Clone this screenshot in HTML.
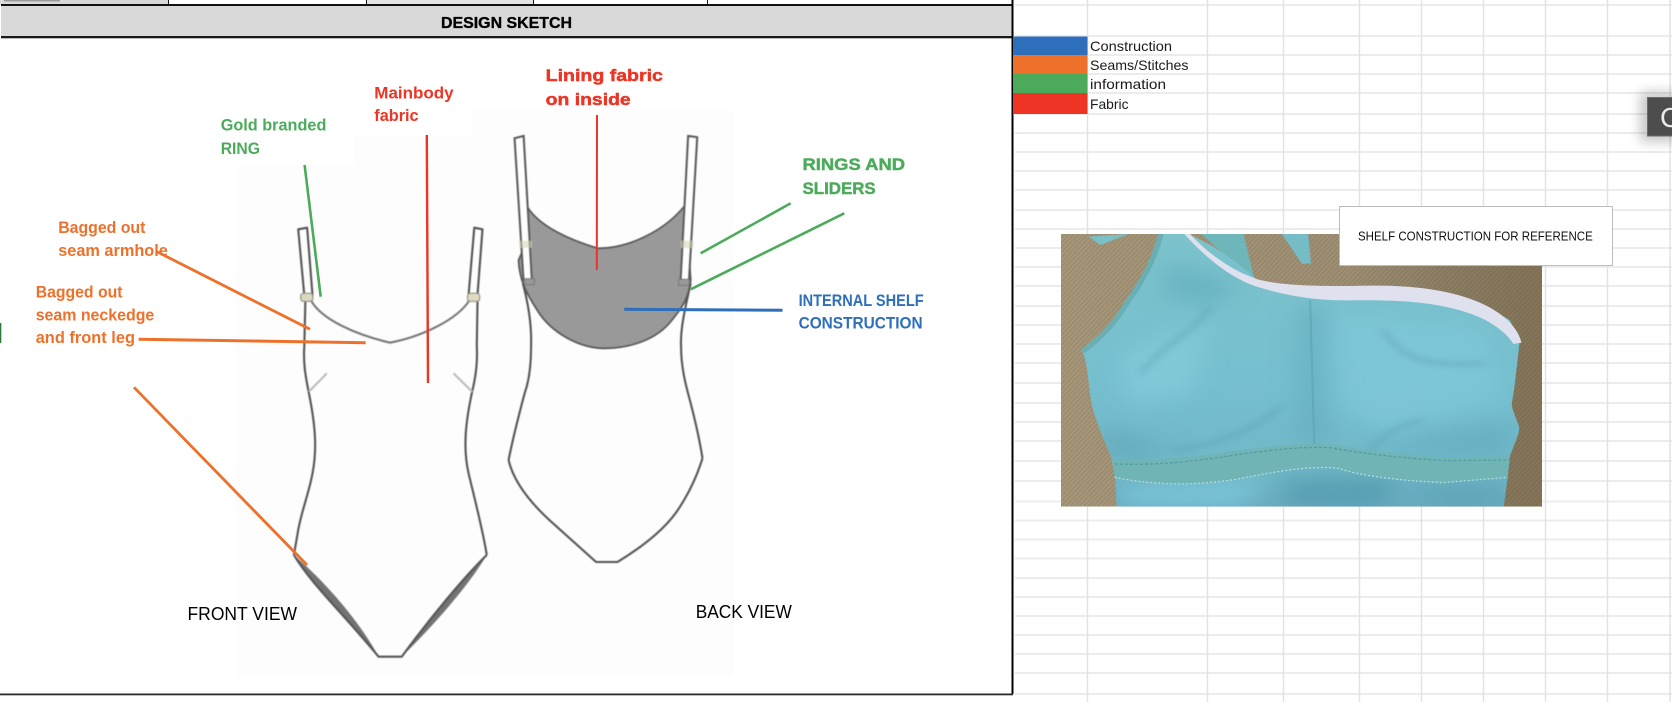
<!DOCTYPE html>
<html><head><meta charset="utf-8"><style>
html,body{margin:0;padding:0;background:#fff;width:1672px;height:702px;overflow:hidden}
svg{display:block;position:absolute;left:0;top:0}
text{font-family:"Liberation Sans",sans-serif}
.b{font-weight:bold;font-size:16.5px}
.h{stroke-width:.45px;font-size:17px}
.o{fill:#ee712b}.r{fill:#ee3424;stroke:#ee3424}.g{fill:#4cab5b;stroke:#4cab5b}.bl{fill:#2e6fbb}
.m{stroke:none}
.s{fill:none;stroke:#555;stroke-width:2.100;vector-effect:non-scaling-stroke;stroke-linejoin:round}
.c{fill:none;vector-effect:non-scaling-stroke}
.hl{stroke:#ececec;stroke-width:2}.vl{stroke:#e2e2e2;stroke-width:1.400}
</style></head><body>
<svg width="1672" height="702" viewBox="0 0 1672 702" xmlns="http://www.w3.org/2000/svg">
<defs>
<filter id="bl1" x="-5%" y="-5%" width="110%" height="110%"><feGaussianBlur stdDeviation="1.800"/></filter>
<filter id="bl4" x="-30%" y="-30%" width="160%" height="160%"><feGaussianBlur stdDeviation="9"/></filter>
<filter id="bl8" x="-50%" y="-50%" width="200%" height="200%"><feGaussianBlur stdDeviation="32"/></filter>
<filter id="shd" x="-40%" y="-40%" width="180%" height="180%"><feGaussianBlur stdDeviation="6"/></filter>
<clipPath id="ph"><rect x="52" y="42" width="1193" height="818"/></clipPath>
<clipPath id="gm"><path d="M300 42C285 110 262 170 215 250C190 300 165 340 105 395C118 430 118 470 125 530C130 570 140 610 175 705L186 770L190 860L1150 860L1160 770L1165 710C1180 660 1190 640 1188 620C1180 590 1170 570 1170 550C1178 500 1182 440 1190 360L1165 300L1100 255L1000 215L900 200L700 205L600 195L540 180L490 130L430 80L370 42Z"/></clipPath>
<pattern id="wood" width="9" height="9" patternUnits="userSpaceOnUse" patternTransform="rotate(-52)">
<rect width="9" height="9" fill="#a39376"/><rect y="2" width="9" height="2" fill="#96866a"/><rect y="6" width="9" height="1.500" fill="#ad9e82"/>
</pattern>
<linearGradient id="wshade" x1="0" y1="0" x2="1" y2="0"><stop offset="0" stop-color="#000" stop-opacity="0"/><stop offset=".6" stop-color="#000" stop-opacity=".05"/><stop offset="1" stop-color="#3a2c10" stop-opacity=".32"/></linearGradient>
<linearGradient id="teal" x1="0" y1="0" x2="0" y2="1"><stop offset="0" stop-color="#7cc3cc"/><stop offset=".55" stop-color="#76bfcf"/><stop offset=".85" stop-color="#70b8c8"/><stop offset="1" stop-color="#68acbe"/></linearGradient>
</defs>

<!-- spreadsheet grid -->
<g class="c">
<path class="hl" d="M1015 5H1672M1015 36H1672M1015 55H1672M1015 74H1672M1015 93H1672M1015 114H1672M1015 133H1672M1015 152H1672M1015 171H1672M1015 190H1672M1015 210H1672M1015 229H1672M1015 248H1672M1015 267H1672M1015 286H1672M1015 306H1672M1015 325H1672M1015 344H1672M1015 363H1672M1015 383H1672M1015 403H1672M1015 422H1672M1015 441H1672M1015 461H1672M1015 481H1672M1015 501.500H1672M1015 520.500H1672M1015 539.500H1672M1015 558.500H1672M1015 578H1672M1015 597H1672M1015 616H1672M1015 635H1672M1015 654H1672M1015 673H1672M1015 694H1672"/>
<path class="vl" d="M1087.500 0V702M1207.500 0V702M1283.500 0V702M1359.500 0V702M1421.500 0V702M1483.500 0V702M1545.500 0V702M1607.500 0V702M1670 0V702"/>
</g>

<!-- sheet frame -->
<rect x="1" y="39" width="1011" height="655" fill="#fff"/>
<rect x="236" y="110" width="497" height="566" fill="#fdfdfd"/>
<rect x="236" y="110" width="118" height="56" fill="#fff"/>
<rect x="354" y="110" width="118" height="26" fill="#fff"/>
<rect x="0" y="0" width="168" height="5" fill="#d9d9d9"/>
<rect x="366" y="0" width="167" height="5" fill="#e4e4e4"/>
<rect x="4" y="0" width="56" height="1.500" fill="#9a9a9a"/>
<rect x="1" y="5" width="1011" height="31" fill="#d9d9d9"/>
<rect x="1" y="4" width="1012" height="2" fill="#111"/>
<rect x="1" y="36" width="1011" height="2" fill="#1a1a1a"/>
<rect x="1" y="38" width="1011" height="1" fill="#b8b8b8"/>
<rect x="168" y="0" width="1" height="5" fill="#111"/><rect x="366" y="0" width="1" height="5" fill="#111"/><rect x="533" y="0" width="1" height="5" fill="#111"/><rect x="707" y="0" width="1" height="5" fill="#111"/>
<rect x="1011.500" y="0" width="2" height="694" fill="#000"/>
<rect x="0" y="693.500" width="1013" height="1.800" fill="#2a2a2a"/>
<rect x="0" y="323" width="1.300" height="20" fill="#2a7a3a"/>
<text x="441" y="28" font-weight="bold" font-size="16" stroke="#000" stroke-width=".35" textLength="131" lengthAdjust="spacingAndGlyphs" fill="#000">DESIGN SKETCH</text>

<!-- garments: zoom coordinates X=x*2.8, Y=y*3 -->
<g transform="scale(0.35714,0.33333)" filter="url(#bl1)">
<!-- front -->
<path d="M823 1665C870 1745 960 1845 1060 1970C1015 1880 930 1765 823 1665Z" fill="#737373"/>
<path d="M1363 1665C1300 1735 1200 1860 1125 1970C1215 1875 1310 1760 1363 1665Z" fill="#737373"/>
<path class="s" d="M835 688L860 683L875 885L852 885Z"/>
<path class="s" d="M1328 683L1351 688L1337 885L1312 885Z"/>
<path class="s" d="M870 900C900 960 1000 1005 1092 1028C1180 1010 1280 960 1315 900" style="stroke:#777"/>
<path class="s" d="M855 905L852 1040C848 1100 860 1150 865 1180C880 1260 890 1340 875 1420C865 1480 845 1530 835 1590L823 1665"/>
<path class="s" d="M1337 905L1335 1040C1338 1090 1330 1140 1322 1175C1305 1260 1295 1340 1312 1420C1325 1480 1350 1580 1363 1665"/>
<path class="s" d="M823 1665C870 1750 960 1840 1060 1970L1125 1970C1200 1860 1300 1730 1363 1665"/>
<path class="s" d="M865 1175L915 1120" style="stroke:#bbb"/>
<path class="s" d="M1322 1175L1270 1120" style="stroke:#bbb"/>
<rect x="842" y="880" width="34" height="24" rx="8" fill="#dcd8c0" stroke="#8f8f80" stroke-width="1.200" vector-effect="non-scaling-stroke"/>
<rect x="1309" y="880" width="34" height="24" rx="8" fill="#e0dcc4" stroke="#8f8f80" stroke-width="1.200" vector-effect="non-scaling-stroke"/>

<!-- back -->
<path d="M1479 625C1514 680 1594 720 1674 745C1764 745 1864 690 1919 615L1934 840C1929 900 1904 930 1874 970C1824 1030 1744 1045 1694 1045C1624 1045 1544 1000 1504 930C1474 880 1454 840 1452 780L1469 740Z" fill="#999" stroke="#585858" stroke-width="1.800" vector-effect="non-scaling-stroke"/>
<path d="M1441 415L1466 408L1489 840L1466 840Z" fill="#fff" stroke="#5c5c5c" stroke-width="2.200" vector-effect="non-scaling-stroke"/>
<path d="M1927 408L1952 412L1929 840L1906 840Z" fill="#fff" stroke="#5c5c5c" stroke-width="2.200" vector-effect="non-scaling-stroke"/>
<rect x="1454" y="722" width="36" height="22" fill="#d6d2b0" opacity=".55"/>
<rect x="1906" y="722" width="36" height="22" fill="#d6d2b0" opacity=".55"/>
<rect x="1468" y="836" width="28" height="18" fill="#999" stroke="#777" vector-effect="non-scaling-stroke"/>
<rect x="1900" y="838" width="30" height="18" fill="#999" stroke="#777" vector-effect="non-scaling-stroke"/>
<path class="s" d="M1464 850C1479 910 1489 980 1487 1040C1487 1100 1479 1150 1469 1180C1454 1240 1439 1300 1424 1380"/>
<path class="s" d="M1934 850C1919 920 1904 990 1907 1040C1907 1100 1919 1150 1929 1190C1944 1250 1959 1320 1967 1375"/>
<path class="s" d="M1424 1380C1439 1450 1494 1520 1559 1580L1669 1686L1729 1686C1784 1650 1864 1590 1904 1520C1934 1470 1954 1420 1967 1375"/>
</g>

<!-- connectors -->
<g class="c" stroke-linecap="butt">
<path d="M304.600 165L320.700 296.700" stroke="#4cab5b" stroke-width="2.600"/>
<path d="M157 251.700L310 329.300" stroke="#ee712b" stroke-width="2.800"/>
<path d="M138.600 339.300L365.700 342.700" stroke="#ee712b" stroke-width="3"/>
<path d="M134 387.300L307 565" stroke="#ee712b" stroke-width="2.800"/>
<path d="M426.800 135L428 383" stroke="#ee3424" stroke-width="2.400"/>
<path d="M597 115L596.800 270" stroke="#ee3424" stroke-width="2"/>
<path d="M700.700 253.300L790.700 203.300" stroke="#4cab5b" stroke-width="2.600"/>
<path d="M690.700 289.300L844.300 213.300" stroke="#4cab5b" stroke-width="2.600"/>
<path d="M624.300 309.300L782.500 310.300" stroke="#2e6fbb" stroke-width="3"/>
</g>

<!-- labels -->
<g class="b">
<text class="g m" x="220.700" y="130.700" textLength="105.700" lengthAdjust="spacingAndGlyphs">Gold branded</text>
<text class="g m" x="220.700" y="154" textLength="39.300" lengthAdjust="spacingAndGlyphs">RING</text>
<text class="r m" x="374.300" y="98.300" textLength="79.300" lengthAdjust="spacingAndGlyphs">Mainbody</text>
<text class="r m" x="374.300" y="121" textLength="44.300" lengthAdjust="spacingAndGlyphs">fabric</text>
<text class="o" x="58.200" y="233" textLength="87.200" lengthAdjust="spacingAndGlyphs">Bagged out</text>
<text class="o" x="58.200" y="256" textLength="109.700" lengthAdjust="spacingAndGlyphs">seam armhole</text>
<text class="o" x="35.700" y="297.700" textLength="86.800" lengthAdjust="spacingAndGlyphs">Bagged out</text>
<text class="o" x="35.700" y="320.700" textLength="118.600" lengthAdjust="spacingAndGlyphs">seam neckedge</text>
<text class="o" x="35.700" y="343" textLength="99.300" lengthAdjust="spacingAndGlyphs">and front leg</text>
<text class="r h" x="545.700" y="81" textLength="117.200" lengthAdjust="spacingAndGlyphs">Lining fabric</text>
<text class="r h" x="545.700" y="105" textLength="85" lengthAdjust="spacingAndGlyphs">on inside</text>
<text class="g h" x="802.500" y="170" textLength="102.500" lengthAdjust="spacingAndGlyphs">RINGS AND</text>
<text class="g h" x="802.500" y="194" textLength="73.200" lengthAdjust="spacingAndGlyphs">SLIDERS</text>
<text class="bl" x="798.600" y="306" textLength="125" lengthAdjust="spacingAndGlyphs">INTERNAL SHELF</text>
<text class="bl" x="798.600" y="328.700" textLength="124" lengthAdjust="spacingAndGlyphs">CONSTRUCTION</text>
</g>
<text x="187.500" y="620" font-size="18" textLength="109.500" lengthAdjust="spacingAndGlyphs" fill="#000">FRONT VIEW</text>
<text x="695.700" y="618" font-size="18" textLength="96.100" lengthAdjust="spacingAndGlyphs" fill="#000">BACK VIEW</text>

<!-- legend -->
<rect x="1013" y="36.500" width="74.500" height="18.500" fill="#2e6fbb"/>
<rect x="1013" y="55" width="74.500" height="19" fill="#ee712b"/>
<rect x="1013" y="74" width="74.500" height="19" fill="#4cab5b"/>
<rect x="1013" y="93" width="74.500" height="21" fill="#ee3424"/>
<g font-size="14" fill="#1a1a1a">
<text x="1090" y="51" textLength="82" lengthAdjust="spacingAndGlyphs">Construction</text>
<text x="1090" y="70" textLength="98.500" lengthAdjust="spacingAndGlyphs">Seams/Stitches</text>
<text x="1090" y="89" textLength="76" lengthAdjust="spacingAndGlyphs">information</text>
<text x="1090" y="109" textLength="38.500" lengthAdjust="spacingAndGlyphs">Fabric</text>
</g>

<!-- dark button -->
<rect x="1640" y="92" width="40" height="50" fill="#000" opacity=".22" filter="url(#shd)"/>
<rect x="1647.500" y="97.500" width="30" height="38.500" fill="#4d4d4d" stroke="#6c6c6c" stroke-width="1"/>
<text x="1660" y="127" font-size="28" fill="#ececec">C</text>

<!-- photo: zoom coordinates -->
<g transform="translate(1040,220) scale(0.40323,0.33333)" clip-path="url(#ph)">
<rect x="52" y="42" width="1193" height="818" fill="url(#wood)"/>
<rect x="52" y="42" width="1193" height="818" fill="url(#wshade)"/>
<path d="M120 50L220 42L150 75Z" fill="#79c0c8"/>
<path d="M600 42L665 42L672 130L650 132Z" fill="#75bcc6"/>
<path d="M400 42L505 42L530 170L490 140Z" fill="#6fb6ba"/>
<path d="M300 42C285 110 262 170 215 250C190 300 165 340 105 395C118 430 118 470 125 530C130 570 140 610 175 705L186 770L190 860L1150 860L1160 770L1165 710C1180 660 1190 640 1188 620C1180 590 1170 570 1170 550C1178 500 1182 440 1190 360L1165 300L1100 255L1000 215L900 200L700 205L600 195L540 180L490 130L430 80L370 42Z" fill="url(#teal)"/>
<path d="M300 42C285 110 262 170 215 250C190 300 165 340 105 395" fill="none" stroke="#69afb3" stroke-width="14"/>
<g clip-path="url(#gm)"><g filter="url(#bl8)">
<path d="M320 130L500 190L420 260L300 220Z" fill="#5aa6b8" opacity=".5"/>
<path d="M200 400L420 300L380 520L220 560Z" fill="#88d0dd" opacity=".55"/>
<path d="M720 280L1100 330L1140 540L860 640L740 560Z" fill="#80c9da" opacity=".65"/>
<path d="M640 260L710 260L710 670L640 670Z" fill="#5ea8ba" opacity=".55"/>
<path d="M140 620L340 690L180 720Z" fill="#559cae" opacity=".5"/>
<path d="M200 800L560 780L500 860L200 860Z" fill="#7fcbe0" opacity=".8"/>
<path d="M600 780L880 770L860 860L620 860Z" fill="#4f97ad" opacity=".7"/>
<path d="M900 790L1150 790L1150 860L980 860Z" fill="#5aa1b3" opacity=".65"/>
<path d="M820 690L1160 700L1175 610L1000 640Z" fill="#5ea6b8" opacity=".5"/>
</g>
<g filter="url(#bl4)" fill="none" stroke="#5ba0b2" stroke-width="10" opacity=".6">
<path d="M330 690C420 680 520 640 600 560"/><path d="M820 690C860 640 880 620 950 600"/><path d="M420 260C400 320 300 380 250 460"/><path d="M850 330C900 420 960 440 1100 430"/>
</g></g>
<path d="M670 240L680 672" stroke="#5aa2b0" stroke-width="2" vector-effect="non-scaling-stroke" fill="none" opacity=".6"/>
<path d="M372 42C420 105 480 155 545 180C610 198 690 198 770 198C880 194 990 198 1085 245C1135 270 1182 310 1194 368L1174 372C1155 335 1115 300 1065 280C975 243 880 240 770 241C680 243 600 225 530 197C470 170 410 112 358 42Z" fill="#dfe1ef"/>
<path d="M180 720C280 720 360 715 500 690C600 675 660 670 720 672C800 690 860 700 1000 712L1165 710L1160 772L1000 788C900 782 800 770 740 745C690 738 620 745 500 775C400 795 300 802 185 772Z" fill="#70b4b6"/>
<path d="M186 732C280 735 360 730 500 702C600 686 660 680 720 683C800 700 860 710 1000 722L1162 720" fill="none" stroke="#4f9ca0" stroke-width="1.200" stroke-dasharray="3 2" vector-effect="non-scaling-stroke"/>
<path d="M185 772C300 800 400 795 500 775C620 745 690 738 740 745C800 770 900 782 1000 788L1160 772" fill="none" stroke="#b5e0e2" stroke-width="1.200" stroke-dasharray="2 2" vector-effect="non-scaling-stroke"/>
</g>

<!-- shelf note -->
<rect x="1339.500" y="206.500" width="273" height="59" fill="#fff" stroke="#bcbcbc" stroke-width="1"/>
<text x="1358" y="240.500" font-size="12.500" textLength="234.800" lengthAdjust="spacingAndGlyphs" fill="#111">SHELF CONSTRUCTION FOR REFERENCE</text>
</svg>
</body></html>
